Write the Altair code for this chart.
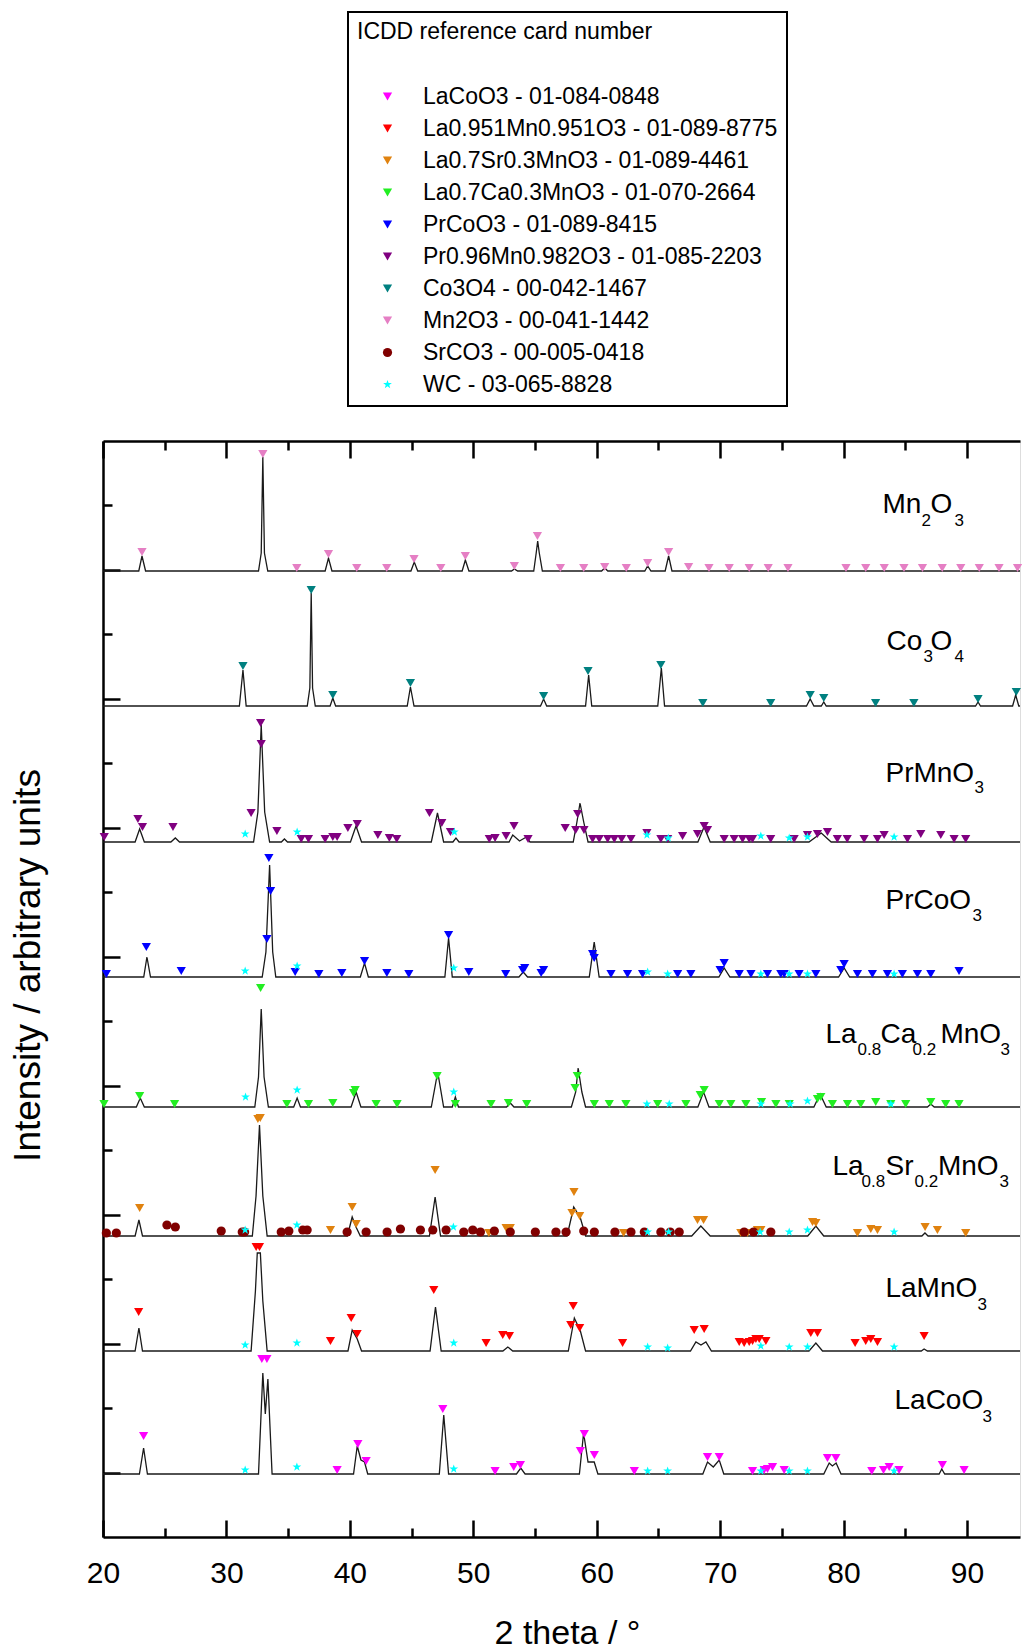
import altair as alt
import pandas as pd

FONT = "Liberation Sans"

# ---------------- patterns (2theta, intensity above own baseline) ----------------
PATTERNS = ["LaCoO3", "LaMnO3", "La0.8Sr0.2MnO3", "La0.8Ca0.2MnO3",
            "PrCoO3", "PrMnO3", "Co3O4", "Mn2O3"]
OFFSETS = [63, 186, 301, 430, 560, 695, 831, 966]

LINE_MN2O3 = [(20, 0), (22.9, 0), (23.16, 15), (23.45, 0), (32.6, 0), (32.82, 18), (32.95, 114),
              (33.08, 18), (33.35, 0), (38.0, 0), (38.27, 13), (38.55, 0), (44.95, 0), (45.22, 9),
              (45.5, 0), (49.1, 0), (49.36, 11), (49.65, 0), (53.1, 0), (53.33, 2), (53.6, 0),
              (54.9, 0), (55.1, 18), (55.22, 30), (55.35, 18), (55.6, 0), (60.4, 0), (60.65, 3),
              (60.9, 0), (63.9, 0), (64.13, 5), (64.4, 0), (65.55, 0), (65.83, 15), (66.1, 0),
              (94.3, 0)]
LINE_CO3O4 = [(20, 0), (31.05, 0), (31.34, 36), (31.6, 0), (36.55, 0), (36.76, 18), (36.87, 113),
              (36.98, 18), (37.2, 0), (38.4, 0), (38.62, 8), (38.85, 0), (44.65, 0), (44.91, 19),
              (45.2, 0), (55.45, 0), (55.7, 7), (55.95, 0), (59.1, 0), (59.35, 31), (59.6, 0),
              (64.95, 0), (65.24, 38), (65.5, 0), (77.0, 0), (77.3, 7), (77.6, 0), (78.2, 0),
              (78.4, 4), (78.6, 0), (90.7, 0), (90.9, 4), (91.1, 0), (93.7, 0), (93.95, 11),
              (94.2, 0), (94.3, 0)]
LINE_PRMNO3 = [(20, 0), (22.6, 0), (22.97, 13), (23.35, 0), (25.5, 0), (25.86, 4), (26.2, 0),
               (32.2, 0), (32.55, 30), (32.82, 117), (33.1, 30), (33.5, 0), (34.45, 0), (34.7, 3),
               (34.95, 0), (40.05, 0), (40.5, 16), (40.95, 0), (46.6, 0), (47.1, 29), (47.6, 0),
               (48.35, 0), (48.6, 4), (48.85, 0), (52.9, 0), (53.2, 7), (53.75, 1), (54.3, 5),
               (54.6, 0), (58.1, 0), (58.4, 20), (58.65, 39), (58.95, 20), (59.3, 0), (68.2, 0),
               (68.7, 15), (69.2, 0), (77.2, 0), (78.2, 9), (79.0, 0), (94.3, 0)]
LINE_PRCOO3 = [(20, 0), (23.3, 0), (23.56, 20), (23.85, 0), (32.9, 0), (33.2, 25), (33.5, 112),
               (33.75, 25), (34.0, 0), (40.85, 0), (41.19, 14), (41.5, 0), (47.7, 0), (48.0, 39),
               (48.3, 0), (53.7, 0), (54.05, 5), (54.4, 0), (59.4, 0), (59.8, 35), (60.2, 0),
               (69.9, 0), (70.33, 9), (70.8, 0), (79.6, 0), (80.05, 9), (80.5, 0), (94.3, 0)]
LINE_LACA = [(20, 0), (22.7, 0), (23.02, 9), (23.35, 0), (32.3, 0), (32.6, 30), (32.82, 98),
             (33.05, 30), (33.4, 0), (35.45, 0), (35.73, 9), (36.0, 0), (40.1, 0), (40.51, 15),
             (40.9, 0), (46.6, 0), (47.12, 35), (47.6, 0), (48.3, 0), (48.55, 10), (48.8, 0),
             (52.7, 0), (53.0, 4), (53.3, 0), (57.95, 0), (58.3, 15), (58.5, 39), (58.8, 15),
             (59.1, 0), (68.2, 0), (68.66, 15), (69.1, 0), (77.6, 0), (78.1, 13), (78.6, 0),
             (86.8, 0), (87.07, 3), (87.35, 0), (94.3, 0)]
LINE_LASR = [(20, 0), (22.6, 0), (22.91, 16), (23.2, 0), (32.1, 0), (32.4, 40), (32.68, 111),
             (32.95, 40), (33.3, 0), (39.8, 0), (40.19, 19), (40.5, 9), (40.85, 0), (46.45, 0),
             (46.91, 39), (47.35, 0), (57.6, 0), (58.14, 29), (58.68, 18), (59.1, 0), (67.7, 0),
             (68.44, 10), (69.2, 0), (77.1, 0), (77.76, 10), (78.4, 0), (86.35, 0), (86.6, 3),
             (86.85, 0), (94.3, 0)]
LINE_LAMNO3 = [(20, 0), (22.6, 0), (22.91, 23), (23.2, 0), (32.0, 0), (32.35, 60), (32.5, 98),
               (32.75, 98), (32.95, 50), (33.3, 0), (39.85, 0), (40.19, 21), (40.6, 12), (40.95, 0),
               (46.5, 0), (46.94, 44), (47.4, 0), (52.4, 0), (52.8, 4), (53.2, 0), (57.7, 0),
               (58.19, 33), (58.68, 20), (59.1, 0), (67.6, 0), (68.04, 9), (68.45, 6), (68.85, 9),
               (69.3, 0), (77.2, 0), (77.76, 8), (78.3, 0), (86.3, 0), (86.53, 2), (86.8, 0),
               (94.3, 0)]
LINE_LACOO3 = [(20, 0), (22.95, 0), (23.29, 26), (23.6, 0), (32.6, 0), (32.95, 101), (33.15, 60),
               (33.36, 95), (33.7, 0), (40.3, 0), (40.6, 28), (40.9, 14), (41.19, 12), (41.45, 0),
               (47.25, 0), (47.61, 59), (48.0, 0), (53.5, 0), (53.85, 6), (54.2, 0), (58.6, 0),
               (58.94, 41), (59.3, 12), (59.8, 12), (60.1, 0), (68.6, 0), (68.98, 12), (69.45, 7),
               (69.93, 14), (70.3, 0), (78.4, 0), (78.84, 11), (79.1, 8), (79.4, 11), (79.8, 0),
               (87.75, 0), (87.96, 5), (88.2, 0), (94.3, 0)]
LINES = [LINE_LACOO3, LINE_LAMNO3, LINE_LASR, LINE_LACA, LINE_PRCOO3, LINE_PRMNO3,
         LINE_CO3O4, LINE_MN2O3]

# ---------------- reference card markers (2theta, height above baseline) ----------------
SERIES = ["LaCoO3 - 01-084-0848", "La0.951Mn0.951O3 - 01-089-8775",
          "La0.7Sr0.3MnO3 - 01-089-4461", "La0.7Ca0.3MnO3 - 01-070-2664",
          "PrCoO3 - 01-089-8415", "Pr0.96Mn0.982O3 - 01-085-2203",
          "Co3O4 - 00-042-1467", "Mn2O3 - 00-041-1442",
          "SrCO3 - 00-005-0418", "WC - 03-065-8828"]
COLORS = ["#ff00ff", "#ff0000", "#e0820f", "#22ee22", "#0000ff", "#800080",
          "#008080", "#e57fc4", "#800000", "#00ffff"]
STAR = ("M0,-1L0.235,-0.324L0.951,-0.309L0.38,0.124L0.588,0.809L0,0.4L-0.588,0.809"
        "L-0.38,0.124L-0.951,-0.309L-0.235,-0.324Z")
SHAPES = ["triangle-down"] * 8 + ["circle", STAR]
SIZES = [85] * 8 + [42, 75]

MK_LACOO3 = [(23.29, 35), (32.87, 112), (33.28, 112), (38.97, 1), (40.65, 27), (41.32, 10),
             (47.53, 62), (51.77, 0), (53.28, 4), (53.82, 6), (58.68, 20), (59.0, 37), (59.81, 16),
             (63.05, 0), (68.98, 14), (69.93, 14), (72.63, 0), (73.57, 1), (73.84, 2), (74.25, 4),
             (75.19, 1), (78.7, 13), (79.38, 13), (82.29, 0), (83.24, 1), (83.7, 4), (84.5, 1),
             (88.01, 6), (89.77, 1)]
MK_LAMNO3 = [(22.89, 36), (32.41, 101), (32.68, 101), (38.43, 7), (40.11, 30), (40.59, 14),
             (46.8, 58), (51.04, 5), (52.39, 13), (52.93, 12), (57.9, 23), (58.1, 42), (58.62, 20),
             (62.1, 5), (67.9, 18), (68.71, 19), (71.55, 6), (71.95, 5), (72.36, 6), (72.63, 7),
             (72.9, 9), (73.17, 9), (73.71, 7), (77.35, 15), (77.89, 15), (80.94, 5), (81.8, 7),
             (82.21, 9), (82.75, 6), (86.53, 12)]
MK_LASR = [(22.97, 25), (32.55, 114), (32.74, 115), (38.43, 3), (40.19, 26), (40.51, 9),
           (46.91, 63), (51.26, 0), (52.66, 5), (53.0, 5), (58.0, 20), (58.16, 41), (58.62, 17),
           (62.18, 0), (68.17, 13), (68.66, 13), (71.68, 0), (72.22, 0), (73.03, 3), (73.3, 3),
           (77.49, 11), (77.76, 10), (81.13, 0), (82.21, 4), (82.75, 3), (86.61, 6), (87.61, 3),
           (89.9, 0)]
MK_LACA = [(20.08, 0), (22.97, 8), (25.8, 0), (32.77, 116), (34.9, 0), (36.65, 0), (38.62, 1),
           (40.3, 11), (40.43, 14), (42.13, 0), (43.83, 0), (47.07, 28), (48.55, 0), (51.44, 0),
           (52.85, 1), (54.33, 0), (58.25, 16), (58.43, 28), (59.81, 0), (61.02, 0), (62.37, 0),
           (64.94, 0), (67.23, 0), (68.39, 9), (68.71, 14), (69.93, 0), (70.87, 0), (72.09, 0),
           (73.36, 2), (74.52, 0), (75.6, 0), (77.89, 5), (78.16, 7), (79.1, 0), (80.32, 0),
           (81.4, 0), (82.61, 2), (83.83, 0), (85.04, 0), (87.07, 2), (88.28, 0), (89.36, 0)]
MK_PRCOO3 = [(20.27, 0), (23.51, 27), (26.34, 3), (33.28, 35), (33.44, 116), (33.58, 83),
             (35.57, 2), (37.49, 0), (39.35, 1), (41.19, 13), (43.0, 1), (44.78, 0), (48.0, 39),
             (49.64, 2), (52.63, 0), (54.0, 4), (54.17, 6), (55.5, 1), (55.7, 4), (59.67, 20),
             (59.8, 16), (61.16, 0), (62.5, 0), (63.72, 0), (66.56, 0), (67.63, 0), (70.0, 4),
             (70.33, 11), (71.55, 0), (72.5, 0), (73.84, 0), (74.92, 0), (75.19, 0), (76.4, 0),
             (77.76, 0), (79.78, 4), (80.05, 10), (81.13, 0), (82.34, 0), (83.56, 0), (84.77, 0),
             (85.99, 0), (87.07, 0), (89.36, 3)]
MK_PRMNO3 = [(20.1, 2), (22.83, 20), (23.2, 12), (25.67, 12), (32.0, 26), (32.77, 116),
             (32.82, 95), (34.09, 8), (36.06, 0), (36.65, 0), (38.0, 0), (38.62, 2), (38.97, 2),
             (39.84, 11), (40.6, 15), (42.27, 4), (43.2, 1), (43.8, 0), (46.45, 26), (47.45, 16),
             (48.15, 7), (51.3, 0), (51.77, 1), (52.66, 3), (53.3, 13), (54.44, 0), (57.45, 11),
             (58.3, 9), (58.46, 25), (58.97, 9), (59.67, 0), (60.21, 0), (60.89, 0), (61.43, 0),
             (62.02, 0), (62.78, 0), (64.07, 6), (65.2, 0), (65.75, 0), (66.96, 3), (68.17, 5),
             (68.71, 13), (68.98, 9), (70.33, 0), (71.14, 0), (71.82, 0), (72.36, 0), (72.63, 0),
             (74.1, 0), (76.0, 0), (77.08, 4), (77.89, 5), (78.7, 7), (79.5, 0), (80.3, 0),
             (81.67, 0), (82.75, 0), (83.29, 4), (85.18, 0), (86.26, 5), (87.88, 4), (88.96, 0),
             (89.9, 0)]
MK_CO3O4 = [(31.34, 37), (36.87, 113), (38.62, 8), (44.91, 20), (55.7, 7), (59.3, 32), (65.2, 38),
            (68.6, 0), (74.1, 0), (77.3, 8), (78.4, 5), (82.6, 0), (85.7, 0), (90.9, 4), (94.0, 11)]
MK_MN2O3 = [(23.16, 16), (32.95, 114), (35.7, 0), (38.27, 14), (40.56, 0), (42.99, 0), (45.2, 9),
            (47.37, 0), (49.36, 12), (53.33, 2), (55.2, 32), (57.06, 0), (58.95, 0), (60.65, 1),
            (62.4, 0), (64.13, 5), (65.83, 16), (67.45, 1), (69.1, 0), (70.74, 0), (72.36, 0),
            (73.9, 0), (75.5, 0), (80.2, 0), (81.8, 0), (83.3, 0), (84.9, 0), (86.4, 0), (88.0, 0),
            (89.5, 0), (91.0, 0), (92.6, 0), (94.1, 0)]
MK_SRCO3 = [(20.27, 0), (21.08, 0), (25.18, 8), (25.86, 6), (29.58, 2), (31.28, 1), (31.47, 1),
            (34.44, 1), (35.06, 2), (36.19, 3), (36.54, 3), (39.78, 1), (41.32, 1), (43.02, 1),
            (44.1, 4), (45.72, 3), (46.72, 3), (47.8, 3), (49.23, 1), (49.96, 3), (50.58, 1),
            (51.71, 2), (53.0, 1), (55.03, 1), (56.7, 1), (57.52, 1), (58.95, 2), (59.81, 1),
            (61.48, 1), (62.78, 1), (63.86, 1), (65.2, 1), (65.96, 1), (66.69, 1), (71.95, 1),
            (72.71, 1), (74.11, 1)]
MK_WC_PRMNO3 = [(31.52, 5), (35.73, 7), (48.47, 7), (64.07, 4), (65.8, 1), (73.3, 3), (75.6, 1),
                (77.08, 2), (84.1, 2)]
MK_WC_PRCOO3 = [(31.52, 3), (35.73, 8), (48.42, 6), (64.13, 2), (65.75, 0), (73.3, 0), (75.6, 0),
                (77.08, 0), (84.1, 0)]
MK_WC_LACA = [(31.55, 7), (35.73, 14), (48.42, 12), (64.07, 0), (65.88, 0), (73.3, 0), (75.68, 0),
              (77.08, 3), (83.83, 0)]
MK_WC_LASR = [(31.52, 3), (35.71, 8), (48.39, 6), (64.13, 1), (65.83, 1), (73.25, 1), (75.6, 1),
              (77.08, 3), (84.1, 1)]
MK_WC_LAMNO3 = [(31.52, 3), (35.71, 5), (48.42, 5), (64.13, 1), (65.75, 0), (73.3, 2), (75.6, 1),
                (77.08, 1), (84.1, 1)]
MK_WC_LACOO3 = [(31.52, 1), (35.71, 4), (48.42, 2), (64.13, 0), (65.75, 0), (73.3, 0), (75.6, 0),
                (77.08, 0), (84.1, 0)]

MARKER_SETS = [
    (SERIES[0], "LaCoO3", MK_LACOO3),
    (SERIES[1], "LaMnO3", MK_LAMNO3),
    (SERIES[2], "La0.8Sr0.2MnO3", MK_LASR),
    (SERIES[3], "La0.8Ca0.2MnO3", MK_LACA),
    (SERIES[4], "PrCoO3", MK_PRCOO3),
    (SERIES[5], "PrMnO3", MK_PRMNO3),
    (SERIES[6], "Co3O4", MK_CO3O4),
    (SERIES[7], "Mn2O3", MK_MN2O3),
    (SERIES[8], "La0.8Sr0.2MnO3", MK_SRCO3),
    (SERIES[9], "PrMnO3", MK_WC_PRMNO3),
    (SERIES[9], "PrCoO3", MK_WC_PRCOO3),
    (SERIES[9], "La0.8Ca0.2MnO3", MK_WC_LACA),
    (SERIES[9], "La0.8Sr0.2MnO3", MK_WC_LASR),
    (SERIES[9], "LaMnO3", MK_WC_LAMNO3),
    (SERIES[9], "LaCoO3", MK_WC_LACOO3),
]

# ---------------- sample labels (text segments, 2theta start, intensity baseline) ----------------
LABEL_MAIN = [("Mn", 83.16, 1024), ("O", 87.05, 1024), ("Co", 83.48, 887), ("O", 87.05, 887),
              ("PrMnO", 83.40, 755), ("PrCoO", 83.40, 628), ("La", 78.54, 494), ("Ca", 82.99, 494),
              ("MnO", 87.85, 494), ("La", 79.11, 362), ("Sr", 83.40, 362), ("MnO", 87.65, 362),
              ("LaMnO", 83.40, 240), ("LaCoO", 84.13, 128)]
LABEL_SUB = [("2", 86.32, 1011), ("3", 88.99, 1011), ("3", 86.48, 875), ("4", 88.99, 875),
             ("3", 90.61, 744), ("3", 90.45, 616), ("0.8", 81.13, 482), ("0.2", 85.59, 482),
             ("3", 92.71, 482), ("0.8", 81.46, 350), ("0.2", 85.75, 350), ("3", 92.63, 350),
             ("3", 90.85, 227), ("3", 91.26, 115)]

X_DOMAIN = [20, 94.3]
Y_DOMAIN = [0, 1096]
X_MAJOR = [20, 30, 40, 50, 60, 70, 80, 90]
X_MINOR = [25, 35, 45, 55, 65, 75, 85]
Y_MAJOR = [64.5, 193.4, 322.4, 451.3, 580.2, 709.2, 838.1, 967.0]
Y_MINOR = [128.9, 257.9, 386.8, 515.8, 644.7, 773.6, 902.6, 1031.5]

# ---------------- tables ----------------
base = dict(zip(PATTERNS, OFFSETS))
line_rows = []
for name, pts in zip(PATTERNS, LINES):
    for x, h in pts:
        line_rows.append({"theta": x, "inten": base[name] + h, "pattern": name})
lines_df = pd.DataFrame(line_rows)

mk_rows = []
for series, pat, pts in MARKER_SETS:
    for x, h in pts:
        mk_rows.append({"theta": x, "inten": base[pat] + h, "series": series})
mk_df = pd.DataFrame(mk_rows)

main_df = pd.DataFrame(LABEL_MAIN, columns=["txt", "theta", "inten"])
sub_df = pd.DataFrame(LABEL_SUB, columns=["txt", "theta", "inten"])

xs = alt.Scale(domain=X_DOMAIN, nice=False, zero=False)
ys = alt.Scale(domain=Y_DOMAIN, nice=False, zero=False)

LW = 2.5


def tick_axis(orient, values, size):
    return alt.Axis(orient=orient, values=values, offset=-size, tickSize=size, tickWidth=LW,
                    tickColor="black", domain=False, labels=False, grid=False, title=None)


ax_bottom_domain = alt.Axis(orient="bottom", domain=True, domainColor="black", domainWidth=LW,
                            ticks=False, labels=False, grid=False, title="2 theta / °",
                            titleFont=FONT, titleFontSize=34, titleFontWeight="normal",
                            titleColor="black", titleX=464, titleY=106,
                            titleBaseline="alphabetic", titleAlign="center")
ax_bottom_major = alt.Axis(orient="bottom", values=X_MAJOR, offset=-17, tickSize=17, tickWidth=LW,
                           tickColor="black", domain=False, labels=True, labelFont=FONT,
                           labelFontSize=30, labelColor="black", labelPadding=21, grid=False,
                           labelFlush=False, labelOverlap=False, title=None, format="d")
ax_bottom_minor = tick_axis("bottom", X_MINOR, 9)
ax_top_domain = alt.Axis(orient="top", domain=True, domainColor="black", domainWidth=LW,
                         ticks=False, labels=False, grid=False, title=None)
ax_top_major = tick_axis("top", X_MAJOR, 17)
ax_top_minor = tick_axis("top", X_MINOR, 9)

ay_left_domain = alt.Axis(orient="left", domain=True, domainColor="black", domainWidth=LW,
                          ticks=False, labels=False, grid=False,
                          title="Intensity / arbitrary units", titleFont=FONT, titleFontSize=37,
                          titleFontWeight="normal", titleColor="black", titleX=-75, titleY=524,
                          titleAngle=270, titleBaseline="middle", titleAlign="center")
ay_left_major = tick_axis("left", Y_MAJOR, 17)
ay_left_minor = tick_axis("left", Y_MINOR, 9)

legend = alt.Legend(title="ICDD reference card number", orient="none", legendX=245, legendY=-429,
                    direction="vertical", titleFont=FONT, titleFontSize=23, titleLimit=800,
                    titleFontWeight="normal", titleColor="black", titlePadding=41,
                    labelFont=FONT, labelFontSize=23, labelColor="black", labelLimit=800,
                    symbolSize=50, symbolOffset=19, labelOffset=24, rowPadding=8,
                    padding=9, strokeColor="black", fillColor="white")

lines = alt.Chart(lines_df).mark_line(color="#1a1a1a", strokeWidth=1.3).encode(
    x=alt.X("theta:Q", scale=xs, axis=ax_bottom_domain),
    y=alt.Y("inten:Q", scale=ys, axis=ay_left_domain),
    detail="pattern:N",
)

markers = alt.Chart(mk_df).mark_point(filled=True, opacity=1, yOffset=-3).encode(
    x=alt.X("theta:Q", scale=xs, axis=ax_bottom_major),
    y=alt.Y("inten:Q", scale=ys, axis=ay_left_major),
    color=alt.Color("series:N", scale=alt.Scale(domain=SERIES, range=COLORS), legend=legend),
    shape=alt.Shape("series:N", scale=alt.Scale(domain=SERIES, range=SHAPES), legend=legend),
    size=alt.Size("series:N", scale=alt.Scale(domain=SERIES, range=SIZES), legend=None),
)

main_txt = alt.Chart(main_df).mark_text(align="left", baseline="alphabetic", font=FONT,
                                        fontSize=28, color="black").encode(
    x=alt.X("theta:Q", scale=xs, axis=ax_bottom_minor),
    y=alt.Y("inten:Q", scale=ys, axis=ay_left_minor),
    text="txt:N",
)

sub_txt = alt.Chart(sub_df).mark_text(align="left", baseline="alphabetic", font=FONT,
                                      fontSize=17, color="black").encode(
    x=alt.X("theta:Q", scale=xs, axis=ax_top_domain),
    y=alt.Y("inten:Q", scale=ys, axis=None),
    text="txt:N",
)

ghost1 = alt.Chart(main_df).mark_point(opacity=0).encode(
    x=alt.X("theta:Q", scale=xs, axis=ax_top_major),
    y=alt.Y("inten:Q", scale=ys, axis=None),
)
ghost2 = alt.Chart(main_df).mark_point(opacity=0).encode(
    x=alt.X("theta:Q", scale=xs, axis=ax_top_minor),
    y=alt.Y("inten:Q", scale=ys, axis=None),
)

chart = alt.layer(lines, markers, main_txt, sub_txt, ghost1, ghost2).resolve_scale(
    x="shared", y="shared"
).resolve_axis(
    x="independent", y="independent"
).properties(
    width=917, height=1096,
    padding={"left": 9, "top": 11, "right": 0, "bottom": 0},
).configure_view(stroke=None).configure(font=FONT).configure_legend(strokeWidth=2)

chart.save("out.html", embed_options={"renderer": "svg", "actions": False})
